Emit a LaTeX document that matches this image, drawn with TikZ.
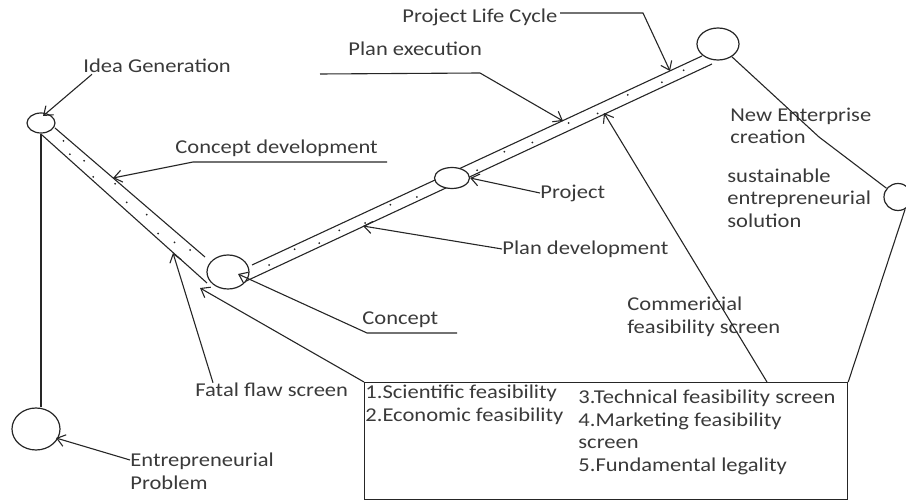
\documentclass[tikz,border=0pt]{standalone}
\usepackage{fontspec}
\setmainfont{Carlito}[FakeStretch=1.15]
\usetikzlibrary{shapes.geometric,arrows.meta,calc}
\definecolor{ink}{HTML}{262626}
\definecolor{txt}{HTML}{3A3A3A}
\begin{document}
\begin{tikzpicture}[x=0.5pt,y=-0.5pt,
  circ/.style={draw=ink, ellipse, fill=white, inner sep=0pt, line width=0.6pt},
  lbl/.style={anchor=west, inner sep=0pt, align=left, text=txt, font=\fontsize{9.8}{11.3}\selectfont},
  link/.style={draw=ink, line width=0.55pt},
  >={Straight Barb[length=4pt,width=6pt]}
]
\useasboundingbox (0,0) rectangle (906,502);
\clip (0,0) rectangle (906,502);

% tubes
\coordinate (ta1) at (55,128); \coordinate (ta2) at (205,257);
\coordinate (tb1) at (42,135); \coordinate (tb2) at (207,283);
\coordinate (tc1) at (252,265); \coordinate (tc2) at (702,56);
\coordinate (td1) at (242,283); \coordinate (td2) at (712,64);
\draw[link] (ta1) -- (ta2);
\draw[link] (tb1) -- (tb2);
\draw[link] (tc1) -- (tc2);
\draw[link] (td1) -- (td2);
\foreach \t/\s in {0.08/0.3,0.15/0.7,0.22/0.4,0.3/0.8,0.41/0.2,0.5/0.6,0.62/0.35,0.7/0.75,0.8/0.5,0.9/0.25}
  \fill[ink] ($($(ta1)!\s!(tb1)$)!\t!($(ta2)!\s!(tb2)$)$) circle (0.5pt);
\foreach \t/\s in {0.05/0.6,0.1/0.3,0.16/0.7,0.2/0.45,0.26/0.8,0.31/0.3,0.37/0.65,0.42/0.5,0.5/0.75,0.56/0.3,0.62/0.6,0.7/0.4,0.76/0.7,0.83/0.35,0.9/0.6,0.95/0.45}
  \fill[ink] ($($(tc1)!\s!(td1)$)!\t!($(tc2)!\s!(td2)$)$) circle (0.5pt);

% stages
\node[circ, minimum width=14pt, minimum height=10pt] (idea) at (41,123) {};
\node[circ, minimum width=21pt, minimum height=17pt] (concept) at (228,272) {};
\node[circ, minimum width=17.5pt, minimum height=10.5pt] (project) at (452,178) {};
\node[circ, minimum width=21pt, minimum height=16pt] (cycle) at (718,44) {};
\node[circ, minimum width=14pt, minimum height=13.5pt] (solution) at (898,197) {};
\node[circ, minimum width=24pt, minimum height=21pt] (problem) at (36,429) {};
\node[draw=ink, line width=0.6pt, anchor=north west, inner sep=0pt,
  minimum width=241.5pt, minimum height=58.5pt] (screens) at (364,382) {};

% labels
\node[lbl] (plcl) at (402,17) {Project Life Cycle};
\node[lbl] (pexl) at (348,49) {Plan execution};
\node[lbl] (ideal) at (83,66) {Idea Generation};
\node[lbl] (cdevl) at (175,148) {Concept development};
\node[lbl] (projl) at (540,193) {Project};
\node[lbl] (pdevl) at (502,249) {Plan development};
\node[lbl] (concl) at (362,320) {Concept};
\node[lbl] (ffsl) at (195,390) {Fatal flaw screen};
\node[lbl] (comml) at (627,316.5) {Commericial\\feasibility screen};
\node[lbl] (newl) at (730,126) {New Enterprise\\creation};
\node[lbl] (susl) at (727,198) {sustainable\\entrepreneurial\\solution};
\node[lbl] (probl) at (130,471.5) {Entrepreneurial\\Problem};
\node[lbl] (sc1) at (365,404.5) {1.Scientific feasibility\\2.Economic feasibility};
\node[lbl] (sc2) at (578,432.5) {3.Technical feasibility screen\\4.Marketing feasibility\\screen\\5.Fundamental legality};

% connectors
\coordinate (kink) at (819,137);
\draw[link] (idea.south) -- (idea.south |- problem.north);
\draw[link] (cycle) -- (kink) -- (solution);
\draw[link] (solution.-60) -- (screens.north east);

% pointers
\coordinate (igtip) at (43,116);
\coordinate (cdtip) at (113,178);
\coordinate (petip) at (563,121);
\coordinate (pltip) at (670,71);
\coordinate (pdtip) at (363,226);
\coordinate (cotip) at (238,274);
\coordinate (fftip) at (173,253);
\coordinate (bxtip) at (200,288);
\coordinate (cmtip) at (604,113);
\coordinate (cmfoot) at (767,382);
\coordinate (pbtip) at (56,438);
\draw[link,->] ($(ideal.south west)+(9,1)$) -- (igtip);
\draw[link,->] (387,162) -- (193,162) -- (cdtip);
\draw[link,->] (320,74) -- (480,73) -- (petip);
\draw[link,->] (560,13) -- (643,13) -- (pltip);
\draw[link,->] (projl.west) -- (project.east);
\draw[link,->] (pdevl.west) -- (pdtip);
\draw[link,->] (457,333) -- (367,333) -- (cotip);
\draw[link,->] ($(ffsl.north west)+(18,0)$) -- (fftip);
\draw[link,->] (screens.north west) -- (bxtip);
\draw[link,->] (cmfoot) -- (cmtip);
\draw[link,->] (130,460) -- (pbtip);
\end{tikzpicture}
\end{document}
